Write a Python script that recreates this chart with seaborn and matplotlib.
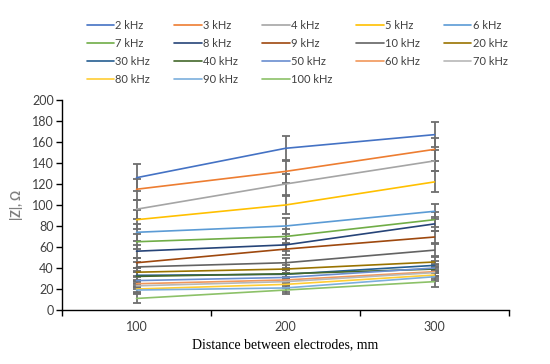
import matplotlib
matplotlib.use("Agg")
import matplotlib.pyplot as plt
import seaborn as sns
import pandas as pd
from matplotlib.ticker import FixedLocator, NullFormatter, FixedFormatter

distances = [100, 200, 300]
freqs = ["2 kHz", "3 kHz", "4 kHz", "5 kHz", "6 kHz", "7 kHz", "8 kHz", "9 kHz",
         "10 kHz", "20 kHz", "30 kHz", "40 kHz", "50 kHz", "60 kHz", "70 kHz",
         "80 kHz", "90 kHz", "100 kHz"]
z_100 = [126, 115, 96, 86, 74, 65, 56, 45, 41, 36, 33, 32, 28, 25, 23, 20, 19, 11]
z_200 = [154, 132, 120, 100, 80, 70, 62, 58, 45, 39, 34, 34.5, 31, 28.6, 27, 24.4, 21, 19]
z_300 = [167, 153, 142, 122, 94, 86, 82, 69.5, 57, 45.7, 42.5, 39, 40, 36.5, 35.6, 33.3, 31.7, 27]
err_100 = [13, 10, 9, 9, 8, 7, 6, 5, 5, 4, 4, 4, 3, 3, 3, 3, 3, 4]
err_200 = [12, 11, 10, 9, 8, 7, 6, 6, 5, 4, 4, 4, 4, 3, 3, 3, 4, 4]
err_300 = [12, 11, 10, 10, 7, 7, 7, 6, 6, 5, 4, 4, 4, 4, 4, 4, 4, 5]
colors = ["#4472C4", "#ED7D31", "#A5A5A5", "#FFC000", "#5B9BD5", "#70AD47",
          "#264478", "#9E480E", "#636363", "#997300", "#255E91", "#43682B",
          "#698ED0", "#F1975A", "#B7B7B7", "#FFCD33", "#7CAFDD", "#8CC168"]

rows = []
for i, f in enumerate(freqs):
    for d, v, e in zip(distances, (z_100[i], z_200[i], z_300[i]), (err_100[i], err_200[i], err_300[i])):
        rows.append({"freq": f, "distance": d, "z": v, "err": e})
df = pd.DataFrame(rows)

sns.set_style("white")
plt.rcParams["font.family"] = ["Lato", "DejaVu Sans"]

fig = plt.figure(figsize=(5.5, 3.64), dpi=100)
ax = fig.add_axes([62/550, 54/364, 447/550, 210/364])

for i, f in enumerate(freqs):
    sub = df[df["freq"] == f]
    ax.errorbar(sub["distance"], sub["z"], yerr=sub["err"], fmt="none",
                ecolor="#6e6e6e", elinewidth=1.3, capsize=3.2, capthick=1.3, zorder=1)

sns.lineplot(data=df, x="distance", y="z", hue="freq", hue_order=freqs,
             palette=colors, linewidth=1.2, ax=ax, zorder=2, legend=True)

ax.set_xlim(50, 350)
ax.set_ylim(0, 200)
ax.set_yticks(range(0, 201, 20))
ax.xaxis.set_major_locator(FixedLocator([50, 150, 250, 350]))
ax.xaxis.set_major_formatter(NullFormatter())
ax.xaxis.set_minor_locator(FixedLocator(distances))
ax.xaxis.set_minor_formatter(FixedFormatter([str(d) for d in distances]))
ax.tick_params(axis="x", which="major", direction="out", length=4, width=1, color="black", bottom=True)
ax.tick_params(axis="x", which="minor", length=0, labelsize=9, labelcolor="#404040", pad=8)
ax.tick_params(axis="y", direction="out", length=4, width=1, color="black", left=True,
               labelsize=9, labelcolor="#404040", pad=2)
for s in ["top", "right"]:
    ax.spines[s].set_visible(False)
for s in ["left", "bottom"]:
    ax.spines[s].set_color("black")
    ax.spines[s].set_linewidth(1.0)

ax.set_xlabel("Distance between electrodes, mm", family=["Liberation Serif"], fontsize=10, color="black", labelpad=4)
ax.set_ylabel("|Z|, Ω", fontsize=9, color="#7f7f7f", fontweight="bold", labelpad=6)

handles, labels = ax.get_legend_handles_labels()
ax.legend_.remove()
ncol = 5
order = [j for c in range(ncol) for j in range(c, len(labels), ncol)]
fig.legend([handles[j] for j in order], [labels[j] for j in order], ncol=ncol,
           loc="upper left", bbox_to_anchor=(81/550, 1 - 14/364),
           frameon=False, fontsize=8, handlelength=2.5, handletextpad=0.1,
           columnspacing=2.15, labelspacing=0.63, borderpad=0, labelcolor="#404040")

fig.savefig("out.png", dpi=100)
